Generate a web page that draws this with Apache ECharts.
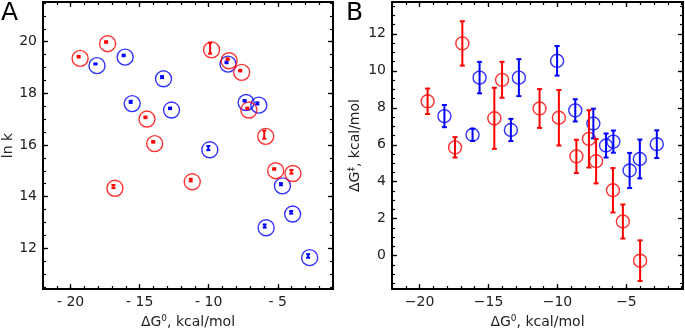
<!DOCTYPE html>
<html>
<head>
<meta charset="utf-8">
<script src="https://cdn.jsdelivr.net/npm/echarts@6/dist/echarts.min.js"></script>
<style>
  html, body { margin: 0; padding: 0; background: #fff; }
  #chart { width: 685px; height: 334px; }
</style>
</head>
<body>
<div id="chart"></div>
<script>
// ΔG0 (kcal/mol), shared by both panels
var redDG0 = [-19.42, -17.43, -16.9, -14.58, -14.02, -11.3, -9.9, -8.63, -7.72, -7.2, -5.98, -5.26, -4.01];
var blueDG0 = [-18.2, -16.16, -15.65, -13.38, -12.8, -10.03, -8.71, -7.4, -6.48, -5.95, -4.77, -4.03, -2.8];

// panel A: ln k
var redLnK = [19.42, 19.99, 14.39, 17.07, 16.12, 14.64, 19.75, 19.33, 18.88, 17.42, 16.40, 15.07, 14.96];
var redLnKErr = [0.03, 0.03, 0.06, 0.03, 0.03, 0.05, 0.21, 0.03, 0.03, 0.03, 0.16, 0.03, 0.07];
var blueLnK = [19.14, 19.47, 17.67, 18.63, 17.42, 15.88, 19.2, 17.71, 17.61, 12.86, 14.48, 13.39, 11.7];
var blueLnKErr = [0.02, 0.03, 0.04, 0.04, 0.03, 0.08, 0.03, 0.03, 0.04, 0.06, 0.04, 0.05, 0.07];

// panel B: ΔG‡ (kcal/mol)
var redDGa = [8.35, 5.86, 11.48, 7.43, 9.51, 7.96, 7.46, 5.37, 6.32, 5.11, 3.54, 1.85, -0.27];
var redDGaErr = [0.69, 0.55, 1.2, 1.65, 0.97, 1.05, 1.5, 0.9, 1.55, 1.2, 1.2, 0.92, 1.1];
var blueDGa = [7.55, 6.54, 9.63, 6.8, 9.63, 10.54, 7.86, 7.15, 5.96, 6.17, 4.61, 5.23, 6.03];
var blueDGaErr = [0.6, 0.33, 0.85, 0.6, 1.0, 0.8, 0.6, 0.8, 0.65, 0.6, 0.95, 1.05, 0.75];

// ticks
var xMajor = [-20, -15, -10, -5];
var yMajorA = [12, 14, 16, 18, 20];
var yMajorB = [0, 2, 4, 6, 8, 10, 12];

var RED = '#ff0000';
var BLUE = '#0000ff';
var FONT = 'DejaVu Sans';

function steps(from, to, step) {
    var out = [];
    for (var v = from; v <= to + 1e-9; v += step) out.push(Math.round(v * 100) / 100);
    return out;
}

function pts(xs, ys) {
    return xs.map(function(x, i) { return [x, ys[i]]; });
}

function bars(xs, ys, es) {
    return xs.map(function(x, i) { return [x, ys[i] - es[i], ys[i] + es[i]]; });
}

function errRender(capW, lw) {
    return function(params, api) {
        var top = api.coord([api.value(0), api.value(2)]);
        var bot = api.coord([api.value(0), api.value(1)]);
        var st = { stroke: api.visual('color'), lineWidth: lw };
        return {
            type: 'group',
            children: [
                { type: 'line', shape: { x1: top[0], y1: top[1], x2: bot[0], y2: bot[1] }, style: st },
                { type: 'line', shape: { x1: top[0] - capW / 2, y1: top[1], x2: top[0] + capW / 2, y2: top[1] }, style: st },
                { type: 'line', shape: { x1: bot[0] - capW / 2, y1: bot[1], x2: bot[0] + capW / 2, y2: bot[1] }, style: st }
            ]
        };
    };
}

// one side of the frame: major ticks (+labels) and minor ticks as two axes
function sideAxes(g, pos, min, max, majors, minors, fmt, name, nameGap) {
    var base = {
        type: 'value', gridIndex: g, position: pos, min: min, max: max,
        axisLine: { show: false, onZero: false }, splitLine: { show: false }
    };
    var major = Object.assign({}, base, {
        axisTick: { show: true, inside: true, length: 5, customValues: majors, lineStyle: { color: '#000', width: 1.3 } },
        axisLabel: {
            show: !!fmt, customValues: majors, formatter: fmt, margin: 6,
            color: '#222', fontSize: 14, fontFamily: FONT
        }
    });
    if (name) {
        major.name = name;
        major.nameLocation = 'middle';
        major.nameGap = nameGap;
        major.nameTextStyle = {
            color: '#222', fontFamily: FONT,
            rich: {
                t: { fontSize: 14, fontFamily: FONT, color: '#222' },
                s: { fontSize: 9, fontFamily: FONT, color: '#222', verticalAlign: 'top', padding: [0, 0, 7, 0] }
            }
        };
    }
    var minor = Object.assign({}, base, {
        axisTick: { show: true, inside: true, length: 3, customValues: minors, lineStyle: { color: '#000', width: 1.2 } },
        axisLabel: { show: false }
    });
    return [major, minor];
}

var xMinor = steps(-22, -1, 1);
var fmtA = function(v) { return '- ' + Math.abs(v); };
var fmtB = function(v) { return '\u2212' + Math.abs(v); };
var xName = '{t|ΔG}{s|0}{t|, kcal/mol}';

var xAxes = [].concat(
    sideAxes(0, 'bottom', -22, -1, xMajor, xMinor, fmtA, xName, 25),
    sideAxes(0, 'top', -22, -1, xMajor, xMinor, null),
    sideAxes(1, 'bottom', -22, -0.9, xMajor, xMinor, fmtB, xName, 25),
    sideAxes(1, 'top', -22, -0.9, xMajor, xMinor, null)
);
var yAxes = [].concat(
    sideAxes(0, 'left', 10.42, 21.54, yMajorA, steps(10.5, 21.5, 0.5), function(v) { return v; }, '{t|ln k}', 22),
    sideAxes(0, 'right', 10.42, 21.54, yMajorA, steps(10.5, 21.5, 0.5), null),
    sideAxes(1, 'left', -1.8, 13.72, yMajorB, steps(-1.5, 13.5, 0.5), function(v) { return v; }, '{t|ΔG}{s|‡}{t|, kcal/mol}', 29),
    sideAxes(1, 'right', -1.8, 13.72, yMajorB, steps(-1.5, 13.5, 0.5), null)
);

function circles(xi, yi, data, color, size, offset) {
    return {
        type: 'scatter', xAxisIndex: xi, yAxisIndex: yi, data: data,
        symbol: 'circle', symbolSize: size, symbolOffset: offset,
        itemStyle: { color: 'rgba(0,0,0,0)', borderColor: color, borderWidth: 1.4 },
        z: 3, silent: true
    };
}

function errs(xi, yi, data, color, capW, lw) {
    return {
        type: 'custom', xAxisIndex: xi, yAxisIndex: yi, data: data,
        renderItem: errRender(capW, lw),
        itemStyle: { color: color },
        encode: { x: 0, y: [1, 2] },
        z: 4, silent: true
    };
}

var option = {
    animation: false,
    backgroundColor: '#fff',
    grid: [
        { left: 43, top: 2, width: 290, height: 291, show: true, borderColor: '#000', borderWidth: 2, backgroundColor: 'transparent' },
        { left: 392, top: 2, width: 291, height: 291, show: true, borderColor: '#000', borderWidth: 2, backgroundColor: 'transparent' }
    ],
    xAxis: xAxes,
    yAxis: yAxes,
    graphic: [
        { type: 'text', left: 1, top: 1, style: { text: 'A', fontSize: 25, fontFamily: FONT, fill: '#000' } },
        { type: 'text', left: 346, top: 1, style: { text: 'B', fontSize: 25, fontFamily: FONT, fill: '#000' } }
    ],
    series: [
        circles(0, 0, pts(blueDG0, blueLnK), BLUE, 16, [1.5, 1.7]),
        circles(0, 0, pts(redDG0, redLnK), RED, 16, [1.5, 1.7]),
        errs(0, 0, bars(blueDG0, blueLnK, blueLnKErr), BLUE, 4, 2),
        errs(0, 0, bars(redDG0, redLnK, redLnKErr), RED, 4, 2),

        circles(4, 4, pts(blueDG0, blueDGa), BLUE, 13, 0),
        circles(4, 4, pts(redDG0, redDGa), RED, 13, 0),
        errs(4, 4, bars(blueDG0, blueDGa, blueDGaErr), BLUE, 5, 2),
        errs(4, 4, bars(redDG0, redDGa, redDGaErr), RED, 5, 2)
    ]
};

var myChart = echarts.init(document.getElementById('chart'));
myChart.setOption(option);
</script>
</body>
</html>
